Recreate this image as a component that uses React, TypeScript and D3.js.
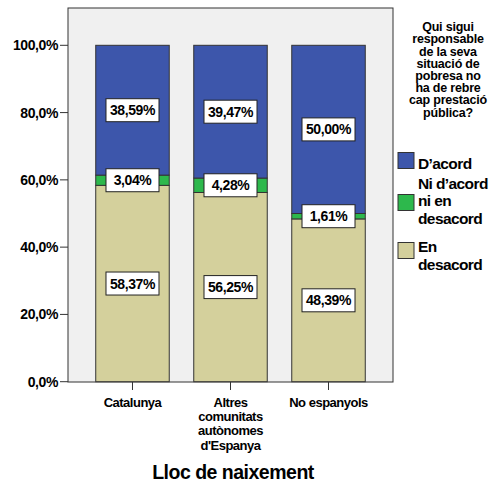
import React from "react";
import * as d3 from "d3";

const categories = ["Catalunya", "Altres comunitats autònomes d'Espanya", "No espanyols"];
const categoryLines = [["Catalunya"], ["Altres", "comunitats", "autònomes", "d'Espanya"], ["No espanyols"]];
const seriesNames = ["En desacord", "Ni d’acord ni en desacord", "D’acord"];
const enDesacord = [58.37, 56.25, 48.39];
const niAcord = [3.04, 4.28, 1.61];
const dAcord = [38.59, 39.47, 50.0];
const seriesColors = ["#d4d09c", "#2db84c", "#3d56ab"];
const yTicks = [0, 20, 40, 60, 80, 100];
const legendTitle = ["Qui sigui", "responsable", "de la seva", "situació de", "pobresa no", "ha de rebre", "cap prestació", "pública?"];
const legendItems = [
  { lines: ["D’acord"], color: "#3d56ab" },
  { lines: ["Ni d’acord", "ni en", "desacord"], color: "#2db84c" },
  { lines: ["En", "desacord"], color: "#d4d09c" },
];

const W = 495, H = 483;
const plot = { x0: 68, x1: 393, y0: 8, y1: 382 };
const font = "'Liberation Sans', Arial, sans-serif";

export default function App() {
  const x = d3.scaleBand<string>().domain(categories).range([plot.x0, plot.x1]).paddingInner(0.25).paddingOuter(0.283);
  const y = d3.scaleLinear().domain([0, 100]).range([381.7, 45.3]);
  const values = [enDesacord, niAcord, dAcord];
  const rows = categories.map((c, i) => {
    const r: any = { cat: c };
    seriesNames.forEach((s, j) => (r[s] = values[j][i]));
    return r;
  });
  const stack = d3.stack<any>().keys(seriesNames)(rows);
  const fmt = (v: number) => v.toFixed(2).replace(".", ",") + "%";

  return (
    <svg width={W} height={H} style={{ display: "block", position: "absolute", left: 0, top: 0 }} fontFamily={font}>
      <rect x={0} y={0} width={W} height={H} fill="#fff" />
      <rect x={plot.x0} y={plot.y0} width={plot.x1 - plot.x0} height={plot.y1 - plot.y0} fill="#f0f0f0" stroke="#333" strokeWidth={1} />
      {stack.map((layer, j) =>
        layer.map((d, i) => (
          <rect key={`${j}-${i}`} x={x(categories[i])} y={y(d[1])} width={x.bandwidth()} height={y(d[0]) - y(d[1])}
            fill={seriesColors[j]} stroke="#333" strokeWidth={1} />
        ))
      )}
      {stack.map((layer, j) =>
        layer.map((d, i) => {
          const cx = (x(categories[i]) as number) + x.bandwidth() / 2;
          const cy = y((d[0] + d[1]) / 2);
          return (
            <g key={`l${j}-${i}`}>
              <rect x={cx - 26.5} y={cy - 11.5} width={53} height={23} fill="#fff" stroke="#222" strokeWidth={1} />
              <text x={cx} y={cy} dy="0.36em" textAnchor="middle" fontSize={14} fontWeight="bold" letterSpacing={-0.4} fill="#000">
                {fmt(values[j][i])}
              </text>
            </g>
          );
        })
      )}
      {yTicks.map((t) => (
        <g key={t}>
          <line x1={60} x2={plot.x0} y1={y(t)} y2={y(t)} stroke="#333" />
          <text x={58} y={y(t)} dy="0.36em" textAnchor="end" fontSize={14} fontWeight="bold" letterSpacing={-0.4}>
            {t.toFixed(1).replace(".", ",") + "%"}
          </text>
        </g>
      ))}
      {categories.map((c, i) => {
        const cx = (x(c) as number) + x.bandwidth() / 2;
        return (
          <g key={c}>
            <line x1={cx} x2={cx} y1={plot.y1} y2={390} stroke="#333" />
            {categoryLines[i].map((ln, k) => (
              <text key={k} x={cx} y={402 + k * 14.3} dy="0.36em" textAnchor="middle" fontSize={13} fontWeight="bold" letterSpacing={-0.5}>
                {ln}
              </text>
            ))}
          </g>
        );
      })}
      <text x={233} y={479} textAnchor="middle" fontSize={19.5} fontWeight="bold" letterSpacing={-0.5}>Lloc de naixement</text>
      {legendTitle.map((ln, k) => (
        <text key={k} x={448} y={26.7 + k * 12.2} dy="0.36em" textAnchor="middle" fontSize={12.5} fontWeight="bold" letterSpacing={-0.2}>
          {ln}
        </text>
      ))}
      {(() => {
        const tops = [152.5, 194.5, 242.5];
        const textStarts = [163, 183, 246.7];
        return legendItems.map((it, k) => (
          <g key={k}>
            <rect x={398} y={tops[k]} width={16} height={16} fill={it.color} stroke="#333" />
            {it.lines.map((ln, m) => (
              <text key={m} x={418} y={textStarts[k] + m * 17.5} dy="0.36em" fontSize={15.5} fontWeight="bold" letterSpacing={-0.6}>
                {ln}
              </text>
            ))}
          </g>
        ));
      })()}
    </svg>
  );
}
